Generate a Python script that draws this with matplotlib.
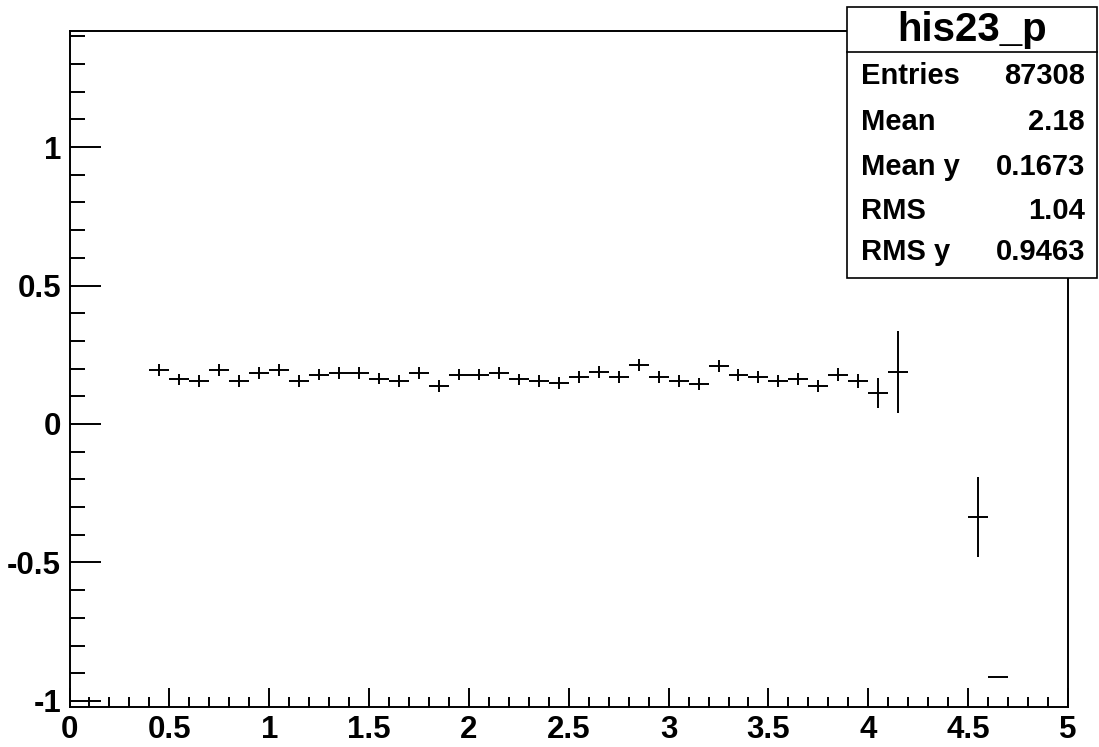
import numpy as np
import matplotlib.pyplot as plt
from matplotlib.patches import Rectangle
from matplotlib.ticker import MultipleLocator, FuncFormatter

plt.rcParams['font.family'] = ['Liberation Sans', 'DejaVu Sans']
plt.rcParams['font.weight'] = 'bold'

# profile bins (centres), mean y per bin and error on the mean
bin_centers = [0.45, 0.55, 0.65, 0.75, 0.85, 0.95, 1.05, 1.15, 1.25, 1.35,
               1.45, 1.55, 1.65, 1.75, 1.85, 1.95, 2.05, 2.15, 2.25, 2.35,
               2.45, 2.55, 2.65, 2.75, 2.85, 2.95, 3.05, 3.15, 3.25, 3.35,
               3.45, 3.55, 3.65, 3.75, 3.85, 3.95, 4.05, 4.15, 4.55, 4.65]
mean_y = [0.195, 0.161, 0.155, 0.195, 0.155, 0.183, 0.195, 0.155, 0.178, 0.183,
          0.183, 0.164, 0.156, 0.183, 0.137, 0.178, 0.178, 0.183, 0.161, 0.156,
          0.149, 0.169, 0.189, 0.169, 0.214, 0.169, 0.156, 0.144, 0.209, 0.177,
          0.169, 0.156, 0.162, 0.137, 0.178, 0.156, 0.111, 0.188, -0.337, -0.913]
err_y = [0.021, 0.021, 0.021, 0.021, 0.021, 0.021, 0.021, 0.021, 0.021, 0.021,
         0.021, 0.021, 0.021, 0.021, 0.021, 0.021, 0.021, 0.021, 0.021, 0.021,
         0.021, 0.022, 0.022, 0.022, 0.022, 0.022, 0.022, 0.022, 0.022, 0.022,
         0.022, 0.022, 0.023, 0.023, 0.024, 0.025, 0.054, 0.148, 0.145, 0.0]
bin_halfwidth = 0.05

stat_names = ['Entries', 'Mean', 'Mean y', 'RMS', 'RMS y']
stat_values = ['87308', '2.18', '0.1673', '1.04', '0.9463']
hist_name = 'his23_p'

W, H = 1099, 747
fig = plt.figure(figsize=(W / 100, H / 100), dpi=100)
ax = fig.add_axes([69.5 / W, 1 - 707 / H, (1068 - 69.5) / W, (707 - 31) / H])

ax.errorbar(bin_centers, mean_y, yerr=err_y, xerr=bin_halfwidth,
            fmt='none', ecolor='black', elinewidth=1.4, capsize=0)

ax.set_xlim(0, 5)
ax.set_ylim(-1.022, 1.419)

ax.xaxis.set_major_locator(MultipleLocator(0.5))
ax.xaxis.set_minor_locator(MultipleLocator(0.1))
ax.yaxis.set_major_locator(MultipleLocator(0.5))
ax.yaxis.set_minor_locator(MultipleLocator(0.1))
fmt = FuncFormatter(lambda v, p: '%g' % round(v, 2))
ax.xaxis.set_major_formatter(fmt)
ax.yaxis.set_major_formatter(fmt)

ax.tick_params(axis='both', which='both', direction='in', top=False, right=False,
               width=1.4, labelsize=22.5)
ax.tick_params(axis='x', which='major', length=14, pad=6)
ax.tick_params(axis='x', which='minor', length=7)
ax.tick_params(axis='y', which='major', length=22, pad=6)
ax.tick_params(axis='y', which='minor', length=11)
for lab in ax.get_xticklabels() + ax.get_yticklabels():
    lab.set_fontweight('bold')
for sp in ax.spines.values():
    sp.set_linewidth(1.4)

# statistics box in the top right corner
bx0, bx1, by0, by1, bdiv = 847, 1097, 7, 278, 52
fig.patches.append(Rectangle((bx0 / W, 1 - by1 / H), (bx1 - bx0) / W, (by1 - by0) / H,
                             transform=fig.transFigure, facecolor='white',
                             edgecolor='black', linewidth=1.2, zorder=5))
fig.lines.append(plt.Line2D([bx0 / W, bx1 / W], [1 - bdiv / H, 1 - bdiv / H],
                            transform=fig.transFigure, color='black', lw=1.2, zorder=6))
fig.text((bx0 + bx1) / 2 / W, 1 - 30 / H, hist_name, ha='center', va='center',
         fontsize=29, fontweight='bold', zorder=7)
row_y = [76, 122, 167, 211, 252]
for name, val, ry in zip(stat_names, stat_values, row_y):
    fig.text(861 / W, 1 - ry / H, name, ha='left', va='center',
             fontsize=21, fontweight='bold', zorder=7)
    fig.text(1085 / W, 1 - ry / H, val, ha='right', va='center',
             fontsize=21, fontweight='bold', zorder=7)

fig.savefig('out.png', dpi=100)
